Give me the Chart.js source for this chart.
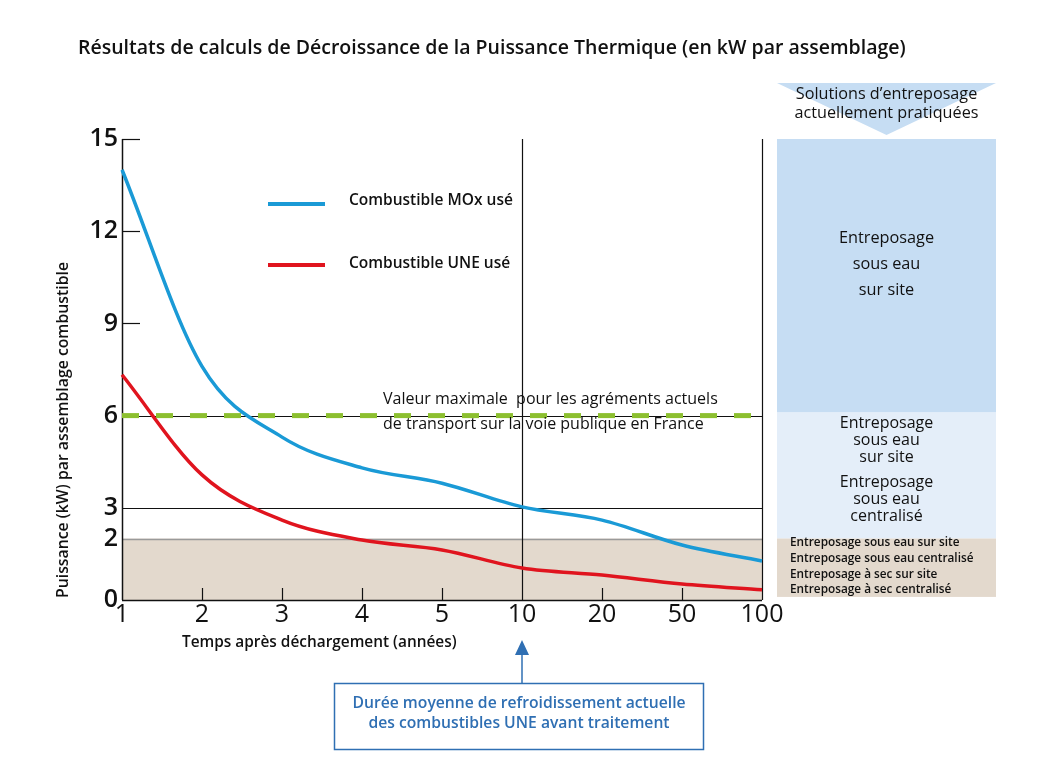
<!DOCTYPE html>
<html>
<head>
<meta charset="utf-8">
<script src="https://cdn.jsdelivr.net/npm/chart.js@4"></script>
<style>
  body { margin: 0; background: #fff; }
  canvas { display: block; }
</style>
</head>
<body>
<canvas id="myChart" width="1037" height="764"></canvas>
<script>
// data
const xLabels = ['1', '2', '3', '4', '5', '10', '20', '50', '100'];
const moxValues = [14.0, 7.6, 5.3, 4.3, 3.8, 3.03, 2.6, 1.79, 1.27];
const uneValues = [7.33, 4.07, 2.6, 1.95, 1.63, 1.04, 0.81, 0.52, 0.33];
const yTicks = [0, 2, 3, 6, 9, 12, 15];

const FONT = '"Open Sans", "Noto Sans", sans-serif';

function txt(ctx, s, x, y, font, color, align) {
    ctx.font = font;
    ctx.fillStyle = color || '#111';
    ctx.textAlign = align || 'left';
    ctx.textBaseline = 'middle';
    ctx.fillText(s, x, y);
}

function hline(ctx, x0, x1, y, color, w) {
    ctx.beginPath();
    ctx.strokeStyle = color;
    ctx.lineWidth = w;
    ctx.moveTo(x0, y);
    ctx.lineTo(x1, y);
    ctx.stroke();
}

function vline(ctx, x, y0, y1, color, w) {
    ctx.beginPath();
    ctx.strokeStyle = color;
    ctx.lineWidth = w;
    ctx.moveTo(x, y0);
    ctx.lineTo(x, y1);
    ctx.stroke();
}

const backdrop = {
    id: 'backdrop',
    beforeDatasetsDraw: (chart) => {
        const {ctx, chartArea: {left, right, top, bottom}, scales: {x, y}} = chart;
        ctx.save();

        // beige band 0-2
        ctx.fillStyle = '#e3d9cd';
        ctx.fillRect(left, y.getPixelForValue(2), right - left, y.getPixelForValue(0) - y.getPixelForValue(2));

        // right panel
        const p0 = right + 15, p1 = right + 234;
        const bands = [[15, 6.1, '#c6ddf3'], [6.1, 2, '#e4eef9'], [2, 0.1, '#e3d9cd']];
        bands.forEach(b => {
            ctx.fillStyle = b[2];
            ctx.fillRect(p0, y.getPixelForValue(b[0]), p1 - p0, y.getPixelForValue(b[1]) - y.getPixelForValue(b[0]));
        });

        // reference lines
        hline(ctx, left, right, Math.round(y.getPixelForValue(2)) + 0.5, '#9a9a9a', 1.5);
        hline(ctx, left, right, Math.round(y.getPixelForValue(3)) + 0.5, '#111', 1.2);
        hline(ctx, left, right, Math.round(y.getPixelForValue(6)) + 0.5, '#111', 1.2);
        vline(ctx, Math.round(x.getPixelForValue(5)) + 0.5, top, bottom, '#111', 1.2);
        vline(ctx, Math.round(x.getPixelForValue(8)) + 0.5, top, bottom, '#111', 1.2);

        // axes
        vline(ctx, left + 0.5, top, bottom, '#111', 1.5);
        hline(ctx, left, right, bottom + 0.5, '#111', 1.5);
        [15, 12, 9].forEach(v => hline(ctx, left, left + 18, Math.round(y.getPixelForValue(v)) + 0.5, '#111', 1.2));
        [1, 2, 3, 4, 6, 7].forEach(i => vline(ctx, Math.round(x.getPixelForValue(i)) + 0.5, bottom, bottom - 12, '#111', 1.2));

        ctx.restore();
    },
    afterDatasetsDraw: (chart) => {
        const {ctx, chartArea: {left, right, top, bottom}, scales: {x, y}} = chart;
        ctx.save();

        // green dashed limit at 6 kW
        ctx.setLineDash([17, 17]);
        hline(ctx, left, right, y.getPixelForValue(6), '#8cbf2f', 5);
        ctx.setLineDash([]);

        // legend
        hline(ctx, 268, 325, 204, '#1a9ad6', 4);
        hline(ctx, 268, 325, 265, '#e0141e', 4);
        txt(ctx, 'Combustible MOx usé', 349, 201, '600 15.5px ' + FONT);
        txt(ctx, 'Combustible UNE usé', 349, 264, '600 15.5px ' + FONT);

        // limit note
        txt(ctx, 'Valeur maximale  pour les agréments actuels', 383, 399, '16px ' + FONT);
        txt(ctx, 'de transport sur la voie publique en France', 383, 424, '16px ' + FONT);

        // title
        txt(ctx, 'Résultats de calculs de Décroissance de la Puissance Thermique (en kW par assemblage)', 78, 48, '600 19.5px ' + FONT);

        // axis titles
        txt(ctx, 'Temps après déchargement (années)', 182, 643, '600 15.4px ' + FONT);
        ctx.save();
        ctx.translate(63, 430);
        ctx.rotate(-Math.PI / 2);
        txt(ctx, 'Puissance (kW) par assemblage combustible', 0, 0, '600 15.8px ' + FONT, '#111', 'center');
        ctx.restore();

        // right panel header chevron
        const p0 = right + 15, p1 = right + 234, pc = (p0 + p1) / 2;
        ctx.fillStyle = '#c6ddf3';
        ctx.beginPath();
        ctx.moveTo(p0, 83);
        ctx.lineTo(p1, 83);
        ctx.lineTo(pc, 135);
        ctx.closePath();
        ctx.fill();
        txt(ctx, 'Solutions d’entreposage', pc, 94, '16.2px ' + FONT, '#111', 'center');
        txt(ctx, 'actuellement pratiquées', pc, 113, '16.2px ' + FONT, '#111', 'center');

        // right panel texts
        ['Entreposage', 'sous eau', 'sur site'].forEach((s, i) => txt(ctx, s, pc, 238 + i * 26, '16.3px ' + FONT, '#111', 'center'));
        ['Entreposage', 'sous eau', 'sur site'].forEach((s, i) => txt(ctx, s, pc, 423 + i * 17, '16px ' + FONT, '#111', 'center'));
        ['Entreposage', 'sous eau', 'centralisé'].forEach((s, i) => txt(ctx, s, pc, 482 + i * 17, '16px ' + FONT, '#111', 'center'));
        ['Entreposage sous eau sur site', 'Entreposage sous eau centralisé', 'Entreposage à sec sur site', 'Entreposage à sec centralisé']
            .forEach((s, i) => txt(ctx, s, p0 + 13, 543 + i * 15.7, '600 11.8px ' + FONT));

        // cooling time note with arrow
        const ax = x.getPixelForValue(5);
        ctx.fillStyle = '#2f6fb3';
        ctx.beginPath();
        ctx.moveTo(ax, 640);
        ctx.lineTo(ax - 7, 655);
        ctx.lineTo(ax + 7, 655);
        ctx.closePath();
        ctx.fill();
        vline(ctx, ax, 654, 683, '#2f6fb3', 1.5);
        ctx.strokeStyle = '#2f6fb3';
        ctx.lineWidth = 1.5;
        ctx.strokeRect(334.5, 683.5, 369, 66);
        txt(ctx, 'Durée moyenne de refroidissement actuelle', 519, 704, '600 15.7px ' + FONT, '#2f6fb3', 'center');
        txt(ctx, 'des combustibles UNE avant traitement', 519, 724, '600 15.7px ' + FONT, '#2f6fb3', 'center');

        ctx.restore();
    }
};

const ctx = document.getElementById('myChart');

new Chart(ctx, {
    type: 'line',
    data: {
        labels: xLabels,
        datasets: [{
            label: 'Combustible MOx usé',
            data: moxValues,
            borderColor: '#1a9ad6',
            borderWidth: 3.5,
            pointRadius: 0,
            cubicInterpolationMode: 'monotone'
        }, {
            label: 'Combustible UNE usé',
            data: uneValues,
            borderColor: '#e0141e',
            borderWidth: 3.5,
            pointRadius: 0,
            cubicInterpolationMode: 'monotone'
        }]
    },
    options: {
        responsive: false,
        animation: false,
        layout: { padding: { left: 0, right: 275, top: 139, bottom: 0 } },
        plugins: {
            legend: { display: false },
            tooltip: { enabled: false }
        },
        scales: {
            x: {
                type: 'category',
                offset: false,
                grid: { display: false, drawTicks: false },
                border: { display: false },
                ticks: {
                    color: '#111',
                    font: { family: FONT, size: 25 },
                    padding: 0,
                    maxRotation: 0,
                    autoSkip: false
                },
                afterFit: (scale) => { scale.height = 164; }
            },
            y: {
                min: 0,
                max: 15,
                grid: { display: false, drawTicks: false },
                border: { display: false },
                afterBuildTicks: (scale) => { scale.ticks = yTicks.map(v => ({ value: v })); },
                ticks: {
                    color: '#111',
                    font: { family: FONT, size: 25, weight: '600' },
                    padding: 4
                },
                afterFit: (scale) => { scale.width = 122; }
            }
        }
    },
    plugins: [backdrop]
});
</script>
</body>
</html>
